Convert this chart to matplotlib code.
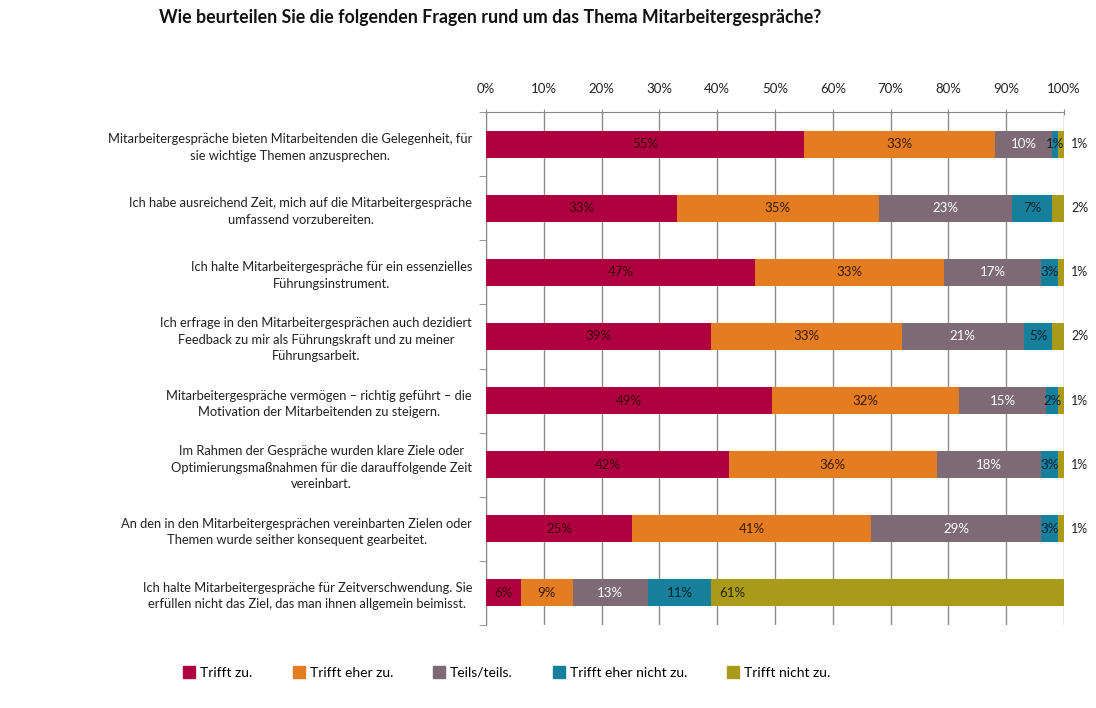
import numpy as np
import matplotlib.pyplot as plt
from matplotlib.lines import Line2D

plt.rcParams['font.family'] = ['Lato', 'DejaVu Sans']

categories = [
    "Mitarbeitergespräche bieten Mitarbeitenden die Gelegenheit, für\nsie wichtige Themen anzusprechen.",
    "Ich habe ausreichend Zeit, mich auf die Mitarbeitergespräche\numfassend vorzubereiten.",
    "Ich halte Mitarbeitergespräche für ein essenzielles\nFührungsinstrument.",
    "Ich erfrage in den Mitarbeitergesprächen auch dezidiert\nFeedback zu mir als Führungskraft und zu meiner\nFührungsarbeit.",
    "Mitarbeitergespräche vermögen – richtig geführt – die\nMotivation der Mitarbeitenden zu steigern.",
    "Im Rahmen der Gespräche wurden klare Ziele oder\nOptimierungsmaßnahmen für die darauffolgende Zeit\nvereinbart.",
    "An den in den Mitarbeitergesprächen vereinbarten Zielen oder\nThemen wurde seither konsequent gearbeitet.",
    "Ich halte Mitarbeitergespräche für Zeitverschwendung. Sie\nerfüllen nicht das Ziel, das man ihnen allgemein beimisst.",
]
series = ["Trifft zu.", "Trifft eher zu.", "Teils/teils.", "Trifft eher nicht zu.", "Trifft nicht zu."]
values = np.array([
    [55, 33, 10, 1, 1],
    [33, 35, 23, 7, 2],
    [47, 33, 17, 3, 1],
    [39, 33, 21, 5, 2],
    [49, 32, 15, 2, 1],
    [42, 36, 18, 3, 1],
    [25, 41, 29, 3, 1],
    [6, 9, 13, 11, 61],
])
colors = ["#AF003F", "#E47C22", "#7E6A75", "#167F9B", "#A99A1A"]
text_colors = ["#3a0010", "#3a1a00", "white", "#002530", "#2a2500"]
title = "Wie beurteilen Sie die folgenden Fragen rund um das Thema Mitarbeitergespräche?"

shares = values / values.sum(axis=1, keepdims=True) * 100

fig = plt.figure(figsize=(10.96, 7.08), dpi=100)
ax = fig.add_axes([0.4434, 0.1172, 0.5274, 0.7246])

y = np.arange(len(categories))
left = np.zeros(len(categories))
for j, s in enumerate(series):
    ax.barh(y, shares[:, j], left=left, height=0.42, color=colors[j], label=s, zorder=3)
    for i in range(len(categories)):
        v = values[i, j]
        w = shares[i, j]
        if j == len(series) - 1:
            if v < 5:
                ax.text(101.2, y[i], f"{v}%", ha='left', va='center', fontsize=9, color='#222222')
            else:
                ax.text(left[i] + 1.3, y[i], f"{v}%", ha='left', va='center', fontsize=9.5,
                        color=text_colors[j])
        else:
            ax.text(left[i] + w / 2, y[i], f"{v}%", ha='center', va='center', fontsize=9.5,
                    color=text_colors[j], zorder=4)
    left += shares[:, j]

ax.set_xlim(0, 100)
ax.set_ylim(len(categories) - 0.5, -0.5)
ax.xaxis.tick_top()
ax.set_xticks(np.arange(0, 101, 10))
ax.set_xticklabels([f"{t}%" for t in range(0, 101, 10)], fontsize=9.5, color='#222222')
ax.tick_params(axis='x', length=5, color='#888888', pad=10, direction='inout')
ax.grid(axis='x', color='#8c8c8c', linewidth=1, zorder=0)

ax.set_yticks(y)
ax.set_yticklabels(categories, fontsize=9.3, color='#222222', multialignment='center',
                   linespacing=1.45)
ax.tick_params(axis='y', which='major', length=0, pad=10)
ax.set_yticks(np.arange(-0.5, len(categories)), minor=True)
ax.tick_params(axis='y', which='minor', length=5, color='#888888', direction='out')

for side in ['right', 'bottom']:
    ax.spines[side].set_visible(False)
for side in ['left', 'top']:
    ax.spines[side].set_color('#888888')

fig.text(0.447, 0.975, title, ha='center', va='center', fontsize=12.8, fontweight='bold', color='#111111')

handles = [Line2D([0], [0], marker='s', color='none', markerfacecolor=c, markeredgecolor=c, markersize=8)
           for c in colors]
fig.legend(handles, series, loc='center', bbox_to_anchor=(0.462, 0.05), ncol=5, frameon=False,
           fontsize=10, columnspacing=2.8, handletextpad=0.3, handlelength=1)

fig.savefig("out.png", dpi=100)
